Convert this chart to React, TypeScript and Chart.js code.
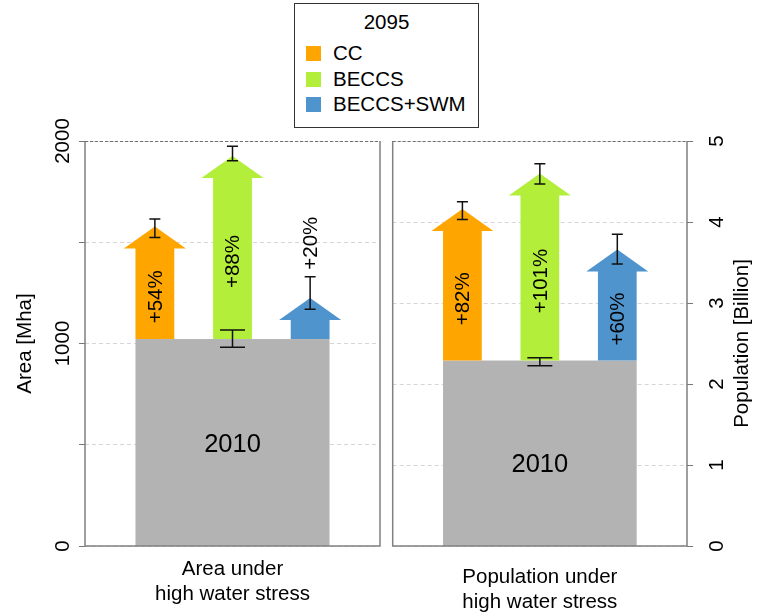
import React, { useEffect, useRef } from "react";
import { Chart, registerables } from "chart.js";
Chart.register(...registerables);

// ---------------- DATA ----------------
const scenarios = ["CC", "BECCS", "BECCS+SWM"];
const legendTitle = "2095";
const baseYearLabel = "2010";

// Area under high water stress [Mha]
const areaBase = 1022;
const areaBaseRange = [981, 1067];
const area2095 = [1578, 1926, 1225];
const areaLow = [1523, 1903, 1169];
const areaHigh = [1615, 1974, 1330];
const areaChange = ["+54%", "+88%", "+20%"];
const areaTicks = [0, 500, 1000, 1500, 2000];
const areaTickLabels = ["0", "", "1000", "", "2000"];
const areaMax = 2000;
const areaBaseLabelAt = 500;
const areaAxisTitle = "Area [Mha]";
const areaCategory = ["Area under", "high water stress"];

// Population under high water stress [Billion]
const popBase = 2.29;
const popBaseRange = [2.226, 2.325];
const pop2095 = [4.16, 4.6, 3.66];
const popLow = [4.03, 4.47, 3.48];
const popHigh = [4.25, 4.72, 3.85];
const popChange = ["+82%", "+101%", "+60%"];
const popTicks = [0, 1, 2, 3, 4, 5];
const popTickLabels = ["0", "1", "2", "3", "4", "5"];
const popMax = 5;
const popBaseLabelAt = 1;
const popAxisTitle = "Population [Billion]";
const popCategory = ["Population under", "high water stress"];

// ---------------- STYLE ----------------
const FONT = '"Liberation Sans", Arial, Helvetica, sans-serif';
const COLORS = ["#FFA500", "#B3EE3A", "#4F94CD"];
const GRAY = "#B3B3B3";
const SHAFT = 0.5; // x units
const HEAD = 0.8; // x units
const HEAD_H = 22; // px
const FS = 20.5;

type Panel = {
  base: number;
  baseRange: number[];
  vals: number[];
  low: number[];
  high: number[];
  change: string[];
  ticks: number[];
  tickLabels: string[];
  yMax: number;
  baseLabelAt: number;
  axisTitle: string;
  category: string[];
  side: "left" | "right";
  catOffsets: number[];
};

function panelPlugin(p: Panel) {
  return {
    id: "panelDraw",
    beforeDatasetsDraw(chart: any) {
      const { ctx, scales } = chart;
      const x = scales.x;
      const y = scales.y;
      const n = p.vals.length;
      const y0 = y.getPixelForValue(0);
      const yb = y.getPixelForValue(p.base);
      const bl = x.getPixelForValue(1 - SHAFT / 2);
      const br = x.getPixelForValue(n + SHAFT / 2);
      ctx.save();
      ctx.fillStyle = GRAY;
      ctx.fillRect(bl, yb, br - bl, y0 - yb);

      // arrows
      p.vals.forEach((v, i) => {
        const xc = x.getPixelForValue(i + 1);
        const sw = x.getPixelForValue(i + 1 + SHAFT / 2) - xc;
        const hw = x.getPixelForValue(i + 1 + HEAD / 2) - xc;
        const yt = y.getPixelForValue(v);
        const yh = yt + HEAD_H;
        ctx.fillStyle = COLORS[i];
        ctx.beginPath();
        ctx.moveTo(xc - sw, yb);
        ctx.lineTo(xc - sw, yh);
        ctx.lineTo(xc - hw, yh);
        ctx.lineTo(xc, yt);
        ctx.lineTo(xc + hw, yh);
        ctx.lineTo(xc + sw, yh);
        ctx.lineTo(xc + sw, yb);
        ctx.closePath();
        ctx.fill();
      });

      // error bars
      const errBar = (xc: number, lo: number, hi: number, cap: number) => {
        const a = y.getPixelForValue(lo);
        const b = y.getPixelForValue(hi);
        ctx.strokeStyle = "#111";
        ctx.lineWidth = 1.5;
        ctx.beginPath();
        ctx.moveTo(xc, a);
        ctx.lineTo(xc, b);
        ctx.moveTo(xc - cap, a);
        ctx.lineTo(xc + cap, a);
        ctx.moveTo(xc - cap, b);
        ctx.lineTo(xc + cap, b);
        ctx.stroke();
      };
      p.vals.forEach((_, i) => {
        errBar(x.getPixelForValue(i + 1), p.low[i], p.high[i], 5.5);
      });
      errBar(x.getPixelForValue((n + 1) / 2), p.baseRange[0], p.baseRange[1], 12.5);

      // percentage labels
      ctx.fillStyle = "#000";
      ctx.font = `${FS}px ${FONT}`;
      ctx.textAlign = "center";
      ctx.textBaseline = "middle";
      p.change.forEach((t, i) => {
        const xc = x.getPixelForValue(i + 1);
        const yh = y.getPixelForValue(p.vals[i]) + HEAD_H;
        const tw = ctx.measureText(t).width;
        let cy: number;
        if (yb - yh < tw + 10) {
          cy = y.getPixelForValue(p.high[i]) - 7 - tw / 2;
        } else {
          cy = (yb + yh) / 2 + 3;
        }
        ctx.save();
        ctx.translate(xc + 1, cy);
        ctx.rotate(-Math.PI / 2);
        ctx.fillText(t, 0, 0);
        ctx.restore();
      });

      // base year label
      ctx.font = `${25.5}px ${FONT}`;
      ctx.fillText(baseYearLabel, x.getPixelForValue((n + 1) / 2), y.getPixelForValue(p.baseLabelAt));
      ctx.restore();
    },
    afterDraw(chart: any) {
      const { ctx, chartArea: ca, scales } = chart;
      const y = scales.y;
      ctx.save();
      // box
      ctx.strokeStyle = "#808080";
      ctx.lineWidth = 1.5;
      ctx.beginPath();
      ctx.moveTo(ca.left, ca.top);
      ctx.lineTo(ca.left, ca.bottom);
      ctx.lineTo(ca.right, ca.bottom);
      ctx.lineTo(ca.right, ca.top);
      ctx.stroke();
      ctx.strokeStyle = "#707070";
      ctx.lineWidth = 1;
      ctx.setLineDash([3, 2]);
      ctx.beginPath();
      ctx.moveTo(ca.left, ca.top + 0.5);
      ctx.lineTo(ca.right, ca.top + 0.5);
      ctx.stroke();
      ctx.setLineDash([]);

      // tick labels
      ctx.fillStyle = "#000";
      ctx.font = `${FS}px ${FONT}`;
      ctx.textAlign = "center";
      ctx.textBaseline = "middle";
      const lx = p.side === "left" ? ca.left - 22 : ca.right + 30;
      p.ticks.forEach((v, i) => {
        const lbl = p.tickLabels[i];
        if (!lbl) return;
        ctx.save();
        ctx.translate(lx, y.getPixelForValue(v));
        ctx.rotate(-Math.PI / 2);
        ctx.fillText(lbl, 0, 0);
        ctx.restore();
      });
      // axis title
      const tx = p.side === "left" ? ca.left - 60 : ca.right + 55;
      ctx.save();
      ctx.translate(tx, (ca.top + ca.bottom) / 2);
      ctx.rotate(-Math.PI / 2);
      ctx.fillText(p.axisTitle, 0, 0);
      ctx.restore();
      // category title
      const cx = (ca.left + ca.right) / 2;
      p.category.forEach((t, i) => {
        ctx.fillText(t, cx, ca.bottom + p.catOffsets[i]);
      });
      ctx.restore();
    },
  };
}

function makeConfig(p: Panel, padding: any, axisWidth: number): any {
  return {
    type: "scatter",
    data: {
      datasets: scenarios.map((s, i) => ({
        label: s,
        data: [{ x: i + 1, y: p.vals[i] }],
        pointRadius: 0,
        backgroundColor: COLORS[i],
      })),
    },
    options: {
      animation: false,
      responsive: false,
      events: [],
      layout: { padding },
      plugins: { legend: { display: false }, tooltip: { enabled: false } },
      scales: {
        x: { type: "linear", min: 0.1, max: 3.9, display: false },
        y: {
          type: "linear",
          position: p.side,
          min: 0,
          max: p.yMax,
          afterBuildTicks: (s: any) => {
            s.ticks = p.ticks.map((v) => ({ value: v }));
          },
          ticks: { display: false },
          grid: {
            color: "#d6d6d6",
            lineWidth: 1,
            drawTicks: true,
            tickLength: 6,
            tickColor: "#777",
            tickWidth: 1,
          },
          border: { display: false, dash: [4, 3] },
          afterFit: (s: any) => {
            s.width = axisWidth;
          },
        },
      },
    },
    plugins: [panelPlugin(p)],
  };
}

const areaPanel: Panel = {
  base: areaBase,
  baseRange: areaBaseRange,
  vals: area2095,
  low: areaLow,
  high: areaHigh,
  change: areaChange,
  ticks: areaTicks,
  tickLabels: areaTickLabels,
  yMax: areaMax,
  baseLabelAt: areaBaseLabelAt,
  axisTitle: areaAxisTitle,
  category: areaCategory,
  side: "left",
  catOffsets: [23, 48],
};

const popPanel: Panel = {
  base: popBase,
  baseRange: popBaseRange,
  vals: pop2095,
  low: popLow,
  high: popHigh,
  change: popChange,
  ticks: popTicks,
  tickLabels: popTickLabels,
  yMax: popMax,
  baseLabelAt: popBaseLabelAt,
  axisTitle: popAxisTitle,
  category: popCategory,
  side: "right",
  catOffsets: [31, 56],
};

function PanelChart({ panel, left, width, padding, axisWidth }: any) {
  const ref = useRef<HTMLCanvasElement>(null);
  useEffect(() => {
    const chart = new Chart(ref.current as HTMLCanvasElement, makeConfig(panel, padding, axisWidth));
    return () => chart.destroy();
  }, []);
  return (
    <canvas
      ref={ref}
      width={width}
      height={612}
      style={{ position: "absolute", left, top: 0, width, height: 612, display: "block" }}
    />
  );
}

function Legend() {
  const tops = [37.3, 63, 88.3];
  const sq = [41.8, 67.5, 92.8];
  return (
    <div
      style={{
        position: "absolute",
        left: 294,
        top: 3,
        width: 185,
        height: 125,
        boxSizing: "border-box",
        border: "1.5px solid #333",
        background: "#fff",
        fontFamily: FONT,
        fontSize: FS,
        lineHeight: "24px",
        color: "#000",
        zIndex: 2,
      }}
    >
      <div style={{ position: "absolute", top: 5.5, left: 0, width: "100%", textAlign: "center" }}>
        {legendTitle}
      </div>
      {scenarios.map((s, i) => (
        <React.Fragment key={s}>
          <div
            style={{
              position: "absolute",
              left: 11,
              top: sq[i],
              width: 15,
              height: 15,
              background: COLORS[i],
            }}
          />
          <div style={{ position: "absolute", left: 38, top: tops[i], whiteSpace: "nowrap" }}>{s}</div>
        </React.Fragment>
      ))}
    </div>
  );
}

export default function App() {
  return (
    <div
      style={{
        position: "fixed",
        left: 0,
        top: 0,
        width: 762,
        height: 612,
        background: "#fff",
        overflow: "hidden",
      }}
    >
      <PanelChart
        panel={areaPanel}
        left={0}
        width={386}
        padding={{ top: 141, bottom: 66, left: 0, right: 6 }}
        axisWidth={85}
      />
      <PanelChart
        panel={popPanel}
        left={386}
        width={376}
        padding={{ top: 141, bottom: 66, left: 6.7, right: 0 }}
        axisWidth={75}
      />
      <Legend />
    </div>
  );
}
